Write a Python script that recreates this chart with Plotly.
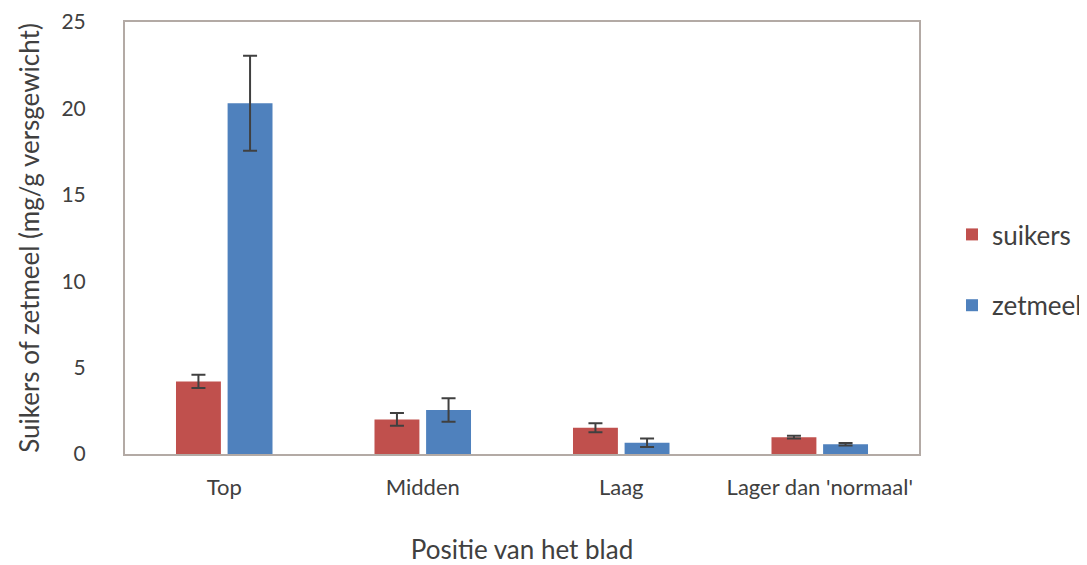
import plotly.graph_objects as go

categories = ["Top", "Midden", "Laag", "Lager dan 'normaal'"]
suikers = [4.2, 2.0, 1.52, 0.97]
suikers_err = [0.38, 0.37, 0.26, 0.08]
zetmeel = [20.3, 2.55, 0.65, 0.56]
zetmeel_err = [2.75, 0.68, 0.25, 0.07]
y_ticks = [0, 5, 10, 15, 20, 25]

FONT = "Lato, Open Sans, sans-serif"
TXT = "#404040"

fig = go.Figure()
fig.add_trace(go.Bar(
    x=categories, y=suikers, name="suikers", legendgroup="a",
    marker=dict(color="#C0504D", line=dict(width=0)),
    error_y=dict(type="data", array=suikers_err, color="#404040", thickness=2, width=7),
))
fig.add_trace(go.Bar(
    x=categories, y=zetmeel, name="zetmeel", legendgroup="b",
    marker=dict(color="#4F81BD", line=dict(width=0)),
    error_y=dict(type="data", array=zetmeel_err, color="#404040", thickness=2, width=7),
))

fig.update_layout(
    width=1079, height=557,
    paper_bgcolor="white", plot_bgcolor="white",
    margin=dict(l=117, r=168, t=14, b=111, autoexpand=False),
    barmode="group", bargap=0.48, bargroupgap=0.13,
    font=dict(family=FONT, color=TXT, size=19),
    legend=dict(x=0.8749, y=0.5296, xref="container", yref="container",
                xanchor="left", yanchor="middle",
                font=dict(size=26, color=TXT), traceorder="grouped",
                tracegroupgap=34, itemwidth=30, bgcolor="rgba(0,0,0,0)"),
    showlegend=True,
)
fig.update_xaxes(
    showline=True, linecolor="#B3AAA5", linewidth=2, mirror=True, automargin=False,
    showgrid=False, ticks="", ticklabelstandoff=13,
    tickfont=dict(size=22, color=TXT),
    title=dict(text="Positie van het blad", font=dict(size=26, color=TXT), standoff=57),
)
fig.update_yaxes(
    range=[0, 25], tickvals=y_ticks, showline=True, linecolor="#B3AAA5", linewidth=2,
    mirror=True, showgrid=False, zeroline=False, ticks="", ticklabelstandoff=33,
    automargin=False,
    tickfont=dict(size=21, color=TXT),
    title=dict(text="Suikers of zetmeel (mg/g versgewicht)", font=dict(size=26, color=TXT), standoff=14),
)

fig.write_html("out.html")
